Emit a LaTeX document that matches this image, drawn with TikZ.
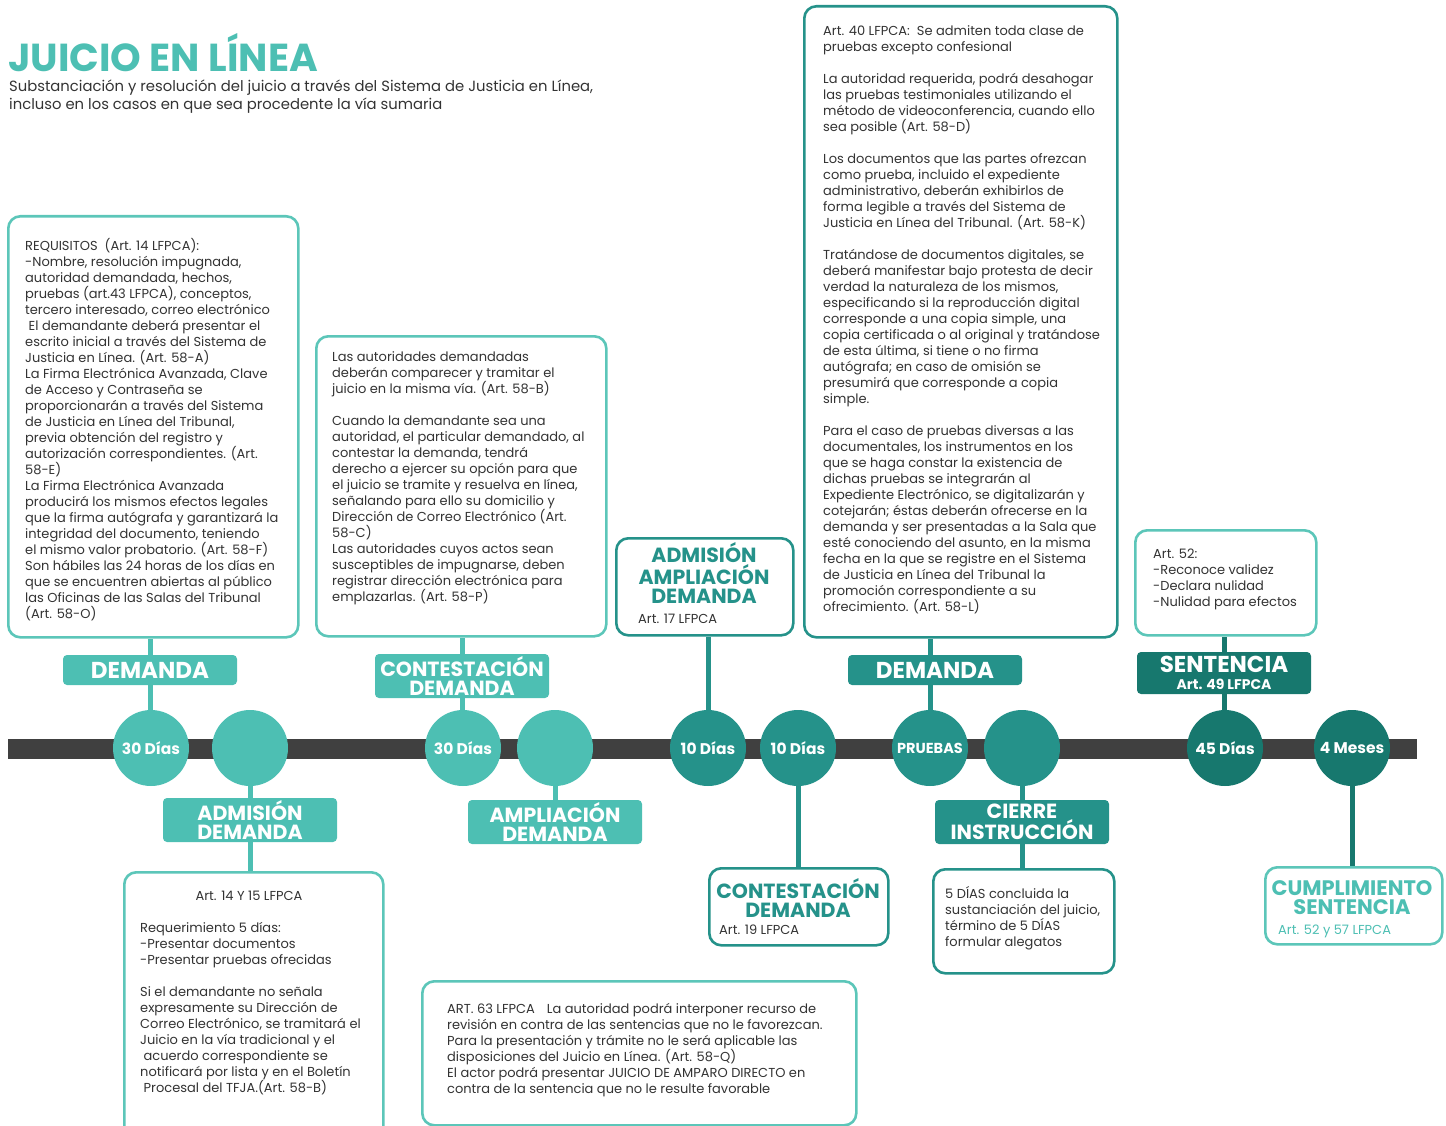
\documentclass[tikz,border=0pt]{standalone}
\usepackage{fontspec}
\setmainfont{Poppins}
\definecolor{tlight}{HTML}{4DBFB3}
\definecolor{blight}{HTML}{5CC6B9}
\definecolor{tmed}{HTML}{25928A}
\definecolor{tdark}{HTML}{17786E}
\definecolor{barc}{HTML}{404040}
\definecolor{txt}{HTML}{333333}
\tikzset{
  infobox/.style={draw, line width=2.6pt, rounded corners=12pt, fill=white, inner sep=0pt, anchor=north west},
  body/.style={anchor=north west, inner sep=0pt, align=left, text=txt, font=\fontsize{13}{16}\selectfont},
  tag/.style={fill, rounded corners=4pt, text=white, font=\bfseries\fontsize{20.5}{19}\selectfont, align=center, minimum width=174pt, inner sep=0pt},
  bigtag/.style={tag, font=\bfseries\fontsize{23}{23}\selectfont},
  dot/.style={circle, minimum size=76pt, inner sep=0pt, text=white, font=\bfseries\fontsize{15.5}{15.5}\selectfont},
  conn/.style={line width=5pt},
  boxtitle/.style={inner sep=0pt, align=center, font=\bfseries\fontsize{20.5}{19}\selectfont}
}
\begin{document}
\begin{tikzpicture}[x=1pt,y=-1pt]
\useasboundingbox (0,0) rectangle (1446,1126);
% title
\node[anchor=base west, inner sep=0pt, text depth=0pt, text=tlight, font=\bfseries\fontsize{39}{39}\selectfont] (title) at (8,72) {JUICIO EN LÍNEA};
\node[anchor=north west, inner sep=0pt, align=left, text=txt, font=\fontsize{14.8}{18}\selectfont] (sub) at (9,80) {Substanciación y resolución del juicio a través del Sistema de Justicia en Línea,\\incluso en los casos en que sea procedente la vía sumaria};

% bar
\node[fill=barc, minimum width=1409pt, minimum height=20pt, inner sep=0pt, anchor=west] (bar) at (8,749) {};

% circles
\node[dot, fill=tlight] (c1) at (151,748) {30 Días};
\node[dot, fill=tlight] (c2) at (250,748) {};
\node[dot, fill=tlight] (c3) at (463,748) {30 Días};
\node[dot, fill=tlight] (c4) at (555,748) {};
\node[dot, fill=tmed] (c5) at (708,748) {10 Días};
\node[dot, fill=tmed] (c6) at (798,748) {10 Días};
\node[dot, fill=tmed, font=\bfseries\fontsize{14.5}{14.5}\selectfont] (c7) at (930,748) {PRUEBAS};
\node[dot, fill=tmed] (c8) at (1022,748) {};
\node[dot, fill=tdark] (c9) at (1225,748) {45 Días};
\node[dot, fill=tdark] (c10) at (1352,748) {4 Meses};

% tags
\node[bigtag, fill=tlight, minimum height=30pt] (l1) at (150,670) {DEMANDA};
\node[tag, fill=tlight, minimum height=44pt] (l2) at (250,820) {ADMISIÓN\\DEMANDA};
\node[tag, fill=tlight, minimum height=44pt] (l3) at (462,676) {CONTESTACIÓN\\DEMANDA};
\node[tag, fill=tlight, minimum height=44pt] (l4) at (555,822) {AMPLIACIÓN\\DEMANDA};
\node[bigtag, fill=tmed, minimum height=30pt] (l7) at (935,670) {DEMANDA};
\node[tag, fill=tmed, minimum height=44pt] (l8) at (1022,822) {CIERRE\\INSTRUCCIÓN};
\node[bigtag, fill=tdark, minimum height=42pt] (l9) at (1224,673) {SENTENCIA\\[-6pt]{\fontsize{14}{14}\selectfont Art. 49 LFPCA}};

% info boxes
\node[infobox, draw=blight, minimum width=290pt, minimum height=421pt] (b1) at (7,215) {};
\node[body] (t1) at (25,238) {REQUISITOS\ \ (Art. 14 LFPCA):\\
-Nombre, resolución impugnada,\\
autoridad demandada, hechos,\\
pruebas (art.43 LFPCA), conceptos,\\
tercero interesado, correo electrónico\\
\ El demandante deberá presentar el\\
escrito inicial a través del Sistema de\\
Justicia en Línea. (Art. 58-A)\\
La Firma Electrónica Avanzada, Clave\\
de Acceso y Contraseña se\\
proporcionarán a través del Sistema\\
de Justicia en Línea del Tribunal,\\
previa obtención del registro y\\
autorización correspondientes. (Art.\\
58-E)\\
La Firma Electrónica Avanzada\\
producirá los mismos efectos legales\\
que la firma autógrafa y garantizará la\\
integridad del documento, teniendo\\
el mismo valor probatorio. (Art. 58-F)\\
Son hábiles las 24 horas de los días en\\
que se encuentren abiertas al público\\
las Oficinas de las Salas del Tribunal\\
(Art. 58-O)};

\node[infobox, draw=blight, minimum width=290pt, minimum height=300pt] (b2) at (315,335) {};
\node[body] (t2) at (332,351) {Las autoridades demandadas\\
deberán comparecer y tramitar el\\
juicio en la misma vía. (Art. 58-B)\\
\mbox{}\\
Cuando la demandante sea una\\
autoridad, el particular demandado, al\\
contestar la demanda, tendrá\\
derecho a ejercer su opción para que\\
el juicio se tramite y resuelva en línea,\\
señalando para ello su domicilio y\\
Dirección de Correo Electrónico (Art.\\
58-C)\\
Las autoridades cuyos actos sean\\
susceptibles de impugnarse, deben\\
registrar dirección electrónica para\\
emplazarlas. (Art. 58-P)};

\node[infobox, draw=tmed, minimum width=177pt, minimum height=97pt] (b5) at (615,537) {};
\node[boxtitle, text=tmed] (t5) at (704,573) {ADMISIÓN\\AMPLIACIÓN\\DEMANDA};
\node[body, anchor=base west] (t5b) at (638,623) {Art. 17 LFPCA};

\node[infobox, draw=tmed, minimum width=313pt, minimum height=631pt] (b7) at (803,5) {};
\node[body] (t7) at (823,25) {Art. 40 LFPCA:\ \ Se admiten toda clase de\\
pruebas excepto confesional\\
\mbox{}\\
La autoridad requerida, podrá desahogar\\
las pruebas testimoniales utilizando el\\
método de videoconferencia, cuando ello\\
sea posible (Art. 58-D)\\
\mbox{}\\
Los documentos que las partes ofrezcan\\
como prueba, incluido el expediente\\
administrativo, deberán exhibirlos de\\
forma legible a través del Sistema de\\
Justicia en Línea del Tribunal. (Art. 58-K)\\
\mbox{}\\
Tratándose de documentos digitales, se\\
deberá manifestar bajo protesta de decir\\
verdad la naturaleza de los mismos,\\
especificando si la reproducción digital\\
corresponde a una copia simple, una\\
copia certificada o al original y tratándose\\
de esta última, si tiene o no firma\\
autógrafa; en caso de omisión se\\
presumirá que corresponde a copia\\
simple.\\
\mbox{}\\
Para el caso de pruebas diversas a las\\
documentales, los instrumentos en los\\
que se haga constar la existencia de\\
dichas pruebas se integrarán al\\
Expediente Electrónico, se digitalizarán y\\
cotejarán; éstas deberán ofrecerse en la\\
demanda y ser presentadas a la Sala que\\
esté conociendo del asunto, en la misma\\
fecha en la que se registre en el Sistema\\
de Justicia en Línea del Tribunal la\\
promoción correspondiente a su\\
ofrecimiento. (Art. 58-L)};

\node[infobox, draw=blight, minimum width=181pt, minimum height=105pt] (b9) at (1134,529) {};
\node[body] (t9) at (1153,549) {Art. 52:\\
-Reconoce validez\\
-Declara nulidad\\
-Nulidad para efectos};

\node[infobox, draw=blight, minimum width=259pt, minimum height=280pt] (b2b) at (123,871) {};
\node[body, anchor=base] (t2a) at (249,900) {Art. 14 Y 15 LFPCA};
\node[body] (t2b) at (140,922) {Requerimiento 5 días:\\
-Presentar documentos\\
-Presentar pruebas ofrecidas\\
\mbox{}\\
Si el demandante no señala\\
expresamente su Dirección de\\
Correo Electrónico, se tramitará el\\
Juicio en la vía tradicional y el\\
\ acuerdo correspondiente se\\
notificará por lista y en el Boletín\\
\ Procesal del TFJA.(Art. 58-B)};

\node[infobox, draw=blight, minimum width=434pt, minimum height=144pt] (b63) at (421,980) {};
\node[body] (t63) at (447,1003) {ART. 63 LFPCA\hspace{12pt}La autoridad podrá interponer recurso de\\
revisión en contra de las sentencias que no le favorezcan.\\
Para la presentación y trámite no le será aplicable las\\
disposiciones del Juicio en Línea. (Art. 58-Q)\\
El actor podrá presentar JUICIO DE AMPARO DIRECTO en\\
contra de la sentencia que no le resulte favorable};

\node[infobox, draw=tmed, minimum width=179pt, minimum height=77pt] (b6) at (708,867) {};
\node[boxtitle, text=tmed] (t6) at (798,898) {CONTESTACIÓN\\DEMANDA};
\node[body, anchor=base west] (t6b) at (719,934) {Art. 19 LFPCA};

\node[infobox, draw=tmed, minimum width=181pt, minimum height=104pt] (b8) at (932,868) {};
\node[body] (t8) at (945,886) {5 DÍAS concluida la\\
sustanciación del juicio,\\
término de 5 DÍAS\\
formular alegatos};

\node[infobox, draw=blight, minimum width=177pt, minimum height=77pt] (b10) at (1264,866) {};
\node[boxtitle, text=tlight, font=\bfseries\fontsize{21}{19}\selectfont] (t10) at (1352,898) {CUMPLIMIENTO\\SENTENCIA};
\node[body, anchor=base west, text=tlight] (t10b) at (1278,934) {Art. 52 y 57 LFPCA};

% connectors
\draw[conn, tlight] (l1.north) -- (l1.north |- b1.south);
\draw[conn, tlight] (c1.north -| l1.south) -- (l1.south);
\draw[conn, tlight] (c2.south) -- (l2.north);
\draw[conn, tlight] (l2.south) -- (l2.south |- b2b.north);
\draw[conn, tlight] (l3.north) -- (l3.north |- b2.south);
\draw[conn, tlight] (c3.north -| l3.south) -- (l3.south);
\draw[conn, tlight] (c4.south) -- (l4.north);
\draw[conn, tmed] (l7.north -| c7.north) -- (c7.north |- b7.south);
\draw[conn, tmed] (c5.north) -- (c5.north |- b5.south);
\draw[conn, tmed] (c6.south) -- (c6.south |- b6.north);
\draw[conn, tmed] (c7.north) -- (c7.north |- l7.south);
\draw[conn, tmed] (c8.south) -- (l8.north);
\draw[conn, tmed] (l8.south) -- (l8.south |- b8.north);
\draw[conn, tdark] (l9.north) -- (l9.north |- b9.south);
\draw[conn, tdark] (c9.north -| l9.south) -- (l9.south);
\draw[conn, tdark] (c10.south) -- (c10.south |- b10.north);
\end{tikzpicture}
\end{document}
